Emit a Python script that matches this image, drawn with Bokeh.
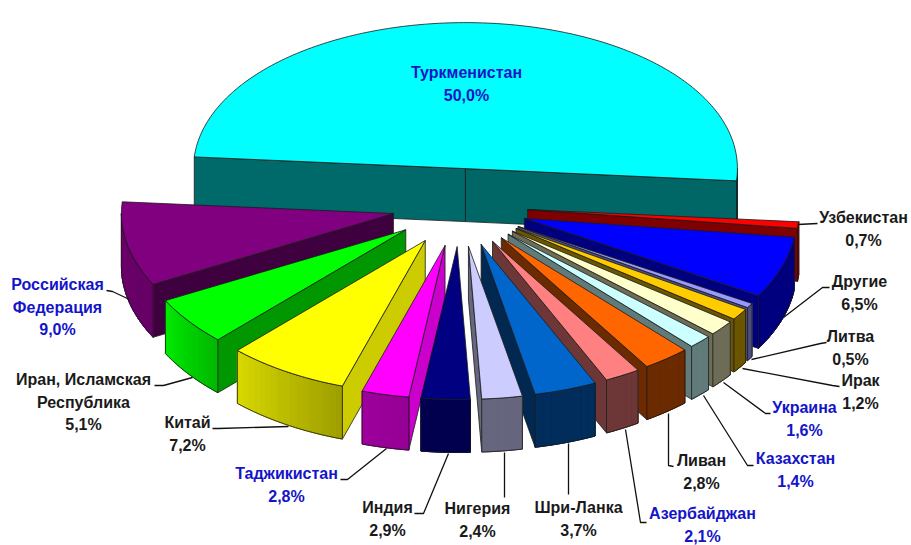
import math
from bokeh.plotting import figure
from bokeh.models import ColumnDataSource, Range1d
from bokeh.core.properties import value
from bokeh.embed import file_html
from bokeh.resources import INLINE

names = ["Туркменистан", "Узбекистан", "Другие", "Литва", "Ирак", "Украина", "Казахстан",
         "Ливан", "Азербайджан", "Шри-Ланка", "Нигерия", "Индия", "Таджикистан", "Китай",
         "Иран, Исламская\nРеспублика", "Российская\nФедерация"]
shares = [50.0, 0.7, 6.5, 0.5, 1.2, 1.6, 1.4, 2.8, 2.1, 3.7, 2.4, 2.9, 2.8, 7.2, 5.1, 9.0]
colors = ["#00FFFF", "#FF0000", "#0000FF", "#9999FF", "#FFCC00", "#FFFFCC", "#CCFFFF", "#FF6600",
          "#FF8080", "#0066CC", "#CCCCFF", "#000080", "#FF00FF", "#FFFF00", "#00FF00", "#800080"]
blue_labels = {"Туркменистан", "Украина", "Казахстан", "Азербайджан", "Таджикистан", "Российская\nФедерация"}

# brightness of the rim at the start and end of each slice
rim_shade = [(.4, .4), (.5, .5), (.5, .5), (.5, .5), (.42, .42), (.43, .43), (.48, .48), (.42, .42),
             (.43, .43), (.45, .45), (.5, .5), (.62, .62), (.58, .62), (.62, .85), (.72, .92), (.8, .85)]

# label anchors (x, y of the first text line) and leader polylines, by slice
label_at = [(466, 72), (863, 217), (859, 281), (850, 336), (860, 380), (804, 407), (795, 458),
            (701, 460), (702, 513), (578, 507), (477, 508), (387, 507), (286, 473), (187, 422),
            (83, 379), (57, 284)]
leaders = [None,
           [(797, 224), (817, 223)],
           [(783, 317), (822, 287), (829, 287)],
           [(751, 359), (820, 343), (826, 342)],
           [(742, 368), (832, 385), (839, 386)],
           [(723, 382), (765, 413), (770, 413)],
           [(703, 395), (747, 465), (753, 465)],
           [(668, 413), (668, 465), (673, 466)],
           [(625, 429), (640, 522), (646, 522)],
           [(568, 443), (568, 494)],
           [(504, 452), (504, 497)],
           [(448, 453), (423, 513), (414, 513)],
           [(386, 448), (347, 479), (340, 479)],
           [(288, 426), (218, 428), (212, 428)],
           [(192, 377), (163, 385), (154, 385)],
           [(129, 299), (112, 291), (106, 290)]]

CX, CY = 459.5, 205.0        # pie centre
A, B, K = 272.0, 149.5, 3.5  # ellipse radii, near/far stretch
EX, EY, EK = 68.0, 39.0, 2.0 # explosion
DEPTH = 53.0
START = -175.5               # start angle of first slice, clockwise on screen


def scale(hex_c, f):
    return "#" + "".join(f"{int(int(hex_c[i:i+2], 16) * f):02x}" for i in (1, 3, 5))


def lerp_table(x, table):
    if x <= table[0][0]:
        return table[0][1]
    for (x0, y0), (x1, y1) in zip(table, table[1:]):
        if x <= x1:
            return y0 + (y1 - y0) * (x - x0) / (x1 - x0)
    return table[-1][1]


RADIAL = [(90, .8), (110, .8), (133, .6), (150, .5), (190, .4)]

xs, ys, fills, f_alpha, l_cols, l_w = [], [], [], [], [], []


def add(pts, fill, line=None, width=0.8):
    xs.append([q[0] for q in pts])
    ys.append([q[1] for q in pts])
    fills.append(fill)
    f_alpha.append(1.0)
    l_cols.append(line or "#1a1a1a")
    l_w.append(width)


def add_outline(pts):
    add(pts, "#000000")
    f_alpha[-1] = 0.0


total = sum(shares)
slices = []
ang = START
for n, v, c, sh in zip(names, shares, colors, rim_shade):
    span = v * 360 / total
    slices.append((n, ang, ang + span, c, sh))
    ang += span


def draw(sl):
    n, t1, t2, c, sh = sl
    m = math.radians((t1 + t2) / 2)
    mx, my = CX + EX * math.cos(m), CY + math.sin(m) * (EY + EK * math.sin(m))

    def pt(t, r=1.0, z=0.0):
        X, Y = r * math.cos(math.radians(t)), r * math.sin(math.radians(t))
        return (mx + A * X, my + Y * (B + K * Y) + z)

    # radial walls
    if math.cos(math.radians(t1)) < 0:
        f = lerp_table(t1 % 360, RADIAL)
        add([pt(t1, 0), pt(t1), pt(t1, 1, DEPTH), pt(t1, 0, DEPTH)], scale(c, f))
    if math.cos(math.radians(t2)) > 0:
        f = sh[0] if sh[0] != .45 else .4
        add([pt(t2, 0), pt(t2), pt(t2, 1, DEPTH), pt(t2, 0, DEPTH)], scale(c, f))
    # rim, in shaded strips over a solid backing
    lo, hi = max(t1, 0), min(t2, 180)
    if hi > lo:
        steps = max(1, int((hi - lo) / 1.5))
        ts = [lo + (hi - lo) * i / steps for i in range(steps + 1)]
        add([pt(t) for t in ts] + [pt(t, 1, DEPTH) for t in reversed(ts)], scale(c, sum(sh) / 2),
            line=scale(c, sum(sh) / 2))
        for a0, a1 in zip(ts, ts[1:]):
            u = ((a0 + a1) / 2 - t1) / (t2 - t1)
            col = scale(c, sh[0] + (sh[1] - sh[0]) * u)
            add([pt(a0), pt(a1), pt(a1, 1, DEPTH), pt(a0, 1, DEPTH)], col, line=col, width=1.0)
        add_outline([pt(t) for t in ts] + [pt(t, 1, DEPTH) for t in reversed(ts)])
    # top
    steps = max(2, int(t2 - t1))
    add([pt(t1, 0)] + [pt(t1 + (t2 - t1) * i / steps) for i in range(steps + 1)], c)


for sl in sorted(slices, key=lambda s: math.sin(math.radians((s[1] + s[2]) / 2))):
    draw(sl)

p = figure(width=911, height=545, output_backend="svg", toolbar_location=None,
           x_range=Range1d(0, 911), y_range=Range1d(545, 0), min_border=0, outline_line_color=None)
p.axis.visible = False
p.grid.visible = False
p.patches("xs", "ys", source=ColumnDataSource(dict(xs=xs, ys=ys, fill=fills, fa=f_alpha, lc=l_cols, lw=l_w)),
          fill_color="fill", fill_alpha="fa", line_color="lc", line_width="lw")

lx = [[q[0] for q in l] for l in leaders if l]
ly = [[q[1] for q in l] for l in leaders if l]
p.multi_line(lx, ly, line_color="#111111", line_width=1.3)

tx, ty, tt, tc = [], [], [], []
for n, v, (x, y) in zip(names, shares, label_at):
    lines = n.split("\n") + [f"{v:.1f}".replace(".", ",") + "%"]
    col = "#1414c8" if n in blue_labels else "#1a1a1a"
    for i, line in enumerate(lines):
        tx.append(x)
        ty.append(y + i * 22.6)
        tt.append(line)
        tc.append(col)
p.text("x", "y", text="t", text_color="c", source=ColumnDataSource(dict(x=tx, y=ty, t=tt, c=tc)),
       text_font=value("Liberation Sans"), text_font_style="bold", text_font_size="16px",
       text_align="center", text_baseline="middle")

open("out.html", "w").write(file_html(p, INLINE))
